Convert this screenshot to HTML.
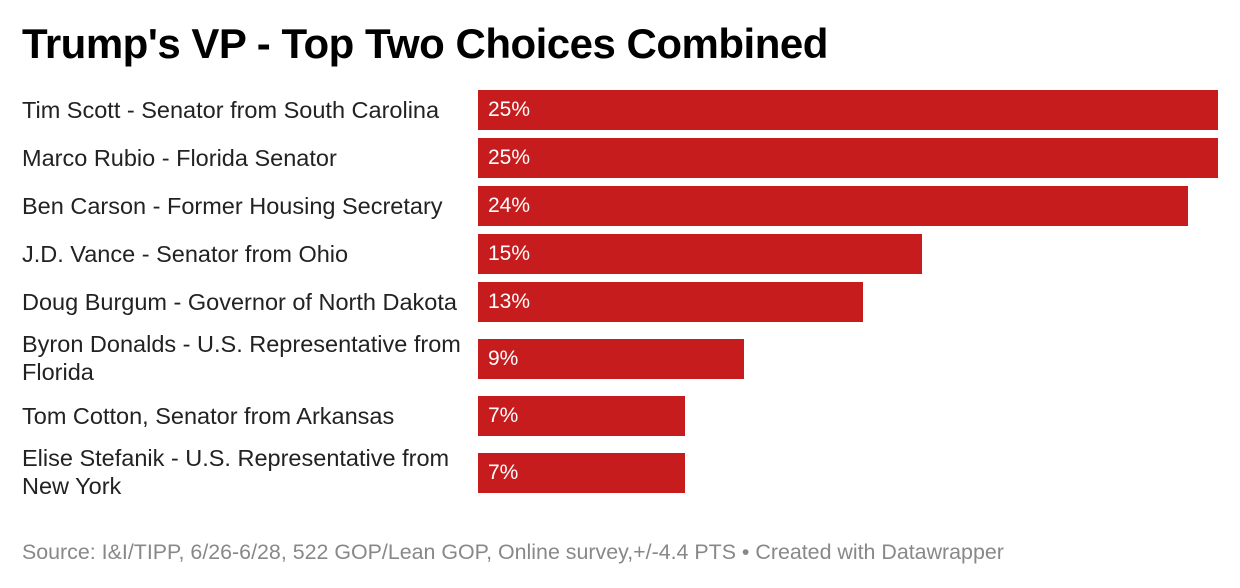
<!DOCTYPE html>
<html><head><meta charset="utf-8"><style>
body{margin:0;width:1240px;height:588px;background:#fff;font-family:"Liberation Sans",Arial,sans-serif;position:relative;overflow:hidden}
#title{position:absolute;left:22px;top:20px;font-size:42px;font-weight:bold;color:#000;letter-spacing:-0.5px}
.lbl{position:absolute;left:22px;font-size:23.5px;line-height:28px;color:#222;width:462px}
.bar{position:absolute;background:#c71c1e}
.val{position:absolute;color:#fff;font-size:21px;line-height:40px}
#src{position:absolute;left:22px;top:540px;font-size:21.4px;color:#888;white-space:nowrap}
</style></head><body>
<div id="title">Trump's VP - Top Two Choices Combined</div>
<div id="chart"></div>
<div id="src">Source: I&amp;I/TIPP, 6/26-6/28, 522 GOP/Lean GOP, Online survey,+/-4.4 PTS • Created with Datawrapper</div>
<script>
const categories=["Tim Scott - Senator from South Carolina","Marco Rubio - Florida Senator","Ben Carson - Former Housing Secretary","J.D. Vance - Senator from Ohio","Doug Burgum - Governor of North Dakota","Byron Donalds - U.S. Representative from Florida","Tom Cotton, Senator from Arkansas","Elise Stefanik - U.S. Representative from New York"];
const values=[25,25,24,15,13,9,7,7];
const x0=478,xMax=25,wMax=740;
const xs=v=>v/xMax*wMax;
const c=document.getElementById('chart');
let y=90;
categories.forEach((cat,i)=>{
  const two=cat.length>40;
  const lbl=document.createElement('div');
  lbl.className='lbl';
  
  
  lbl.textContent=cat;
  lbl.style.top=(two?y-9:y+6)+'px';
  c.appendChild(lbl);
  const b=document.createElement('div');
  b.className='bar';
  
  
  b.style.left=x0+'px';b.style.top=y+'px';b.style.width=xs(values[i])+'px';b.style.height='40px';
  c.appendChild(b);
  const v=document.createElement('div');
  v.className='val';
  
  
  v.textContent=values[i]+'%';
  v.style.left=(x0+10)+'px';v.style.top=y+'px';
  c.appendChild(v);
  const nextTwo=i+1<categories.length&&categories[i+1].length>40;
  y+=(two||nextTwo)?57:48;
});
</script>
</body></html>
